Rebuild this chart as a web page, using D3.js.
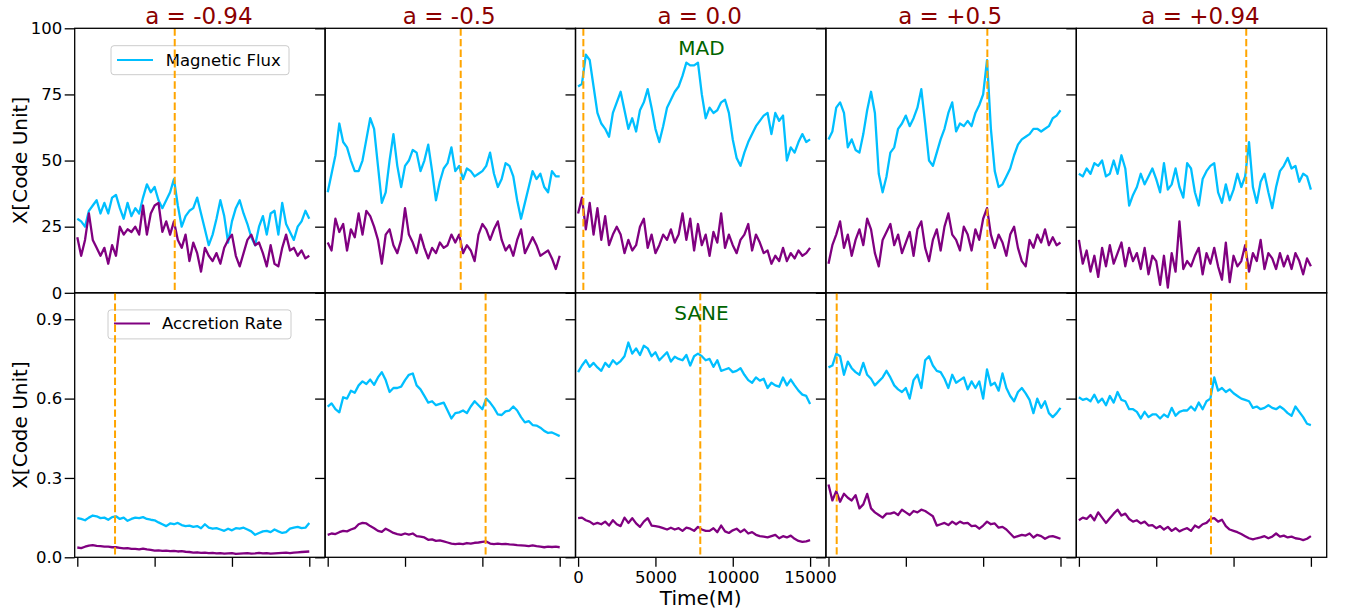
<!DOCTYPE html>
<html><head><meta charset="utf-8">
<script src="https://cdn.jsdelivr.net/npm/d3@7"></script>
<style>body{margin:0;background:#fff;} svg text{font-family:"DejaVu Sans",sans-serif;}</style>
</head><body><svg id="c" width="1348" height="611"></svg>
<script>
// ---------------- data ----------------
const spins = ["a = -0.94", "a = -0.5", "a = 0.0", "a = +0.5", "a = +0.94"];
const times = d3.range(0, 15001, 250); // sample times (M)
const timeTicks = [0, 5000, 10000, 15000];
const madYTicks = [0, 25, 50, 75, 100];
const saneYTicks = [0.0, 0.3, 0.6, 0.9];

// MAD: magnetic flux
const madFlux_m094 = [28,27,25,31,33,35,30,34,30,36,37,32,28,34,29,32,30,36,41,38,40,35,32,35,38,43,33,25,29,31,32,36,30,24,18,22,28,35,29,19,27,32,35,30,26,21,18,25,29,22,30,31,22,34,26,23,20,25,27,31,28];
const madFlux_m05 = [38,45,52,64,57,55,50,46,46,50,58,66,62,48,34,38,50,60,48,40,48,50,54,53,46,50,56,46,35,42,47,49,55,46,48,43,47,46,44,45,46,48,53,45,40,43,49,48,44,35,28,34,40,46,43,45,40,38,46,44,44];
const madFlux_0 = [78,79,90,88,78,68,64,62,59,68,72,76,69,62,66,61,69,72,77,70,62,57,63,70,73,76,78,82,87,86,86,87,75,66,70,68,69,72,73,68,58,51,48,53,57,60,63,65,67,68,60,68,65,67,50,55,53,57,60,57,58];
const madFlux_p05 = [58,61,70,72,68,55,58,54,53,60,69,76,68,45,38,44,53,55,62,64,67,63,66,70,77,64,50,48,53,58,62,68,72,61,64,63,65,63,68,71,75,88,62,46,40,41,44,47,52,56,58,59,60,62,62,61,62,63,66,67,69];
const madFlux_p094 = [45,44,47,45,49,48,50,44,45,50,45,52,47,33,37,40,45,41,44,47,43,38,49,39,41,47,40,36,49,47,38,33,43,46,48,49,38,34,41,35,39,45,40,44,57,40,34,42,45,38,32,40,46,48,51,47,48,42,45,44,39];
// MAD: accretion rate
const madAcc_m094 = [21,14,20,30,20,17,14,17,11,18,14,25,22,24,23,25,22,33,22,30,33,34,23,27,22,27,20,17,22,12,19,15,8,17,14,12,15,11,17,20,22,14,10,15,20,22,18,19,15,10,18,11,10,17,22,16,17,14,16,13,14];
const madAcc_m05 = [19,16,28,23,26,16,24,21,30,22,31,29,25,20,11,22,24,18,15,20,32,22,19,15,22,17,13,17,15,19,17,18,22,19,22,15,18,16,12,22,26,24,20,24,27,20,16,18,14,20,24,15,18,21,18,14,15,16,13,9,14];
const madAcc_0 = [30,36,24,34,22,32,20,29,18,22,25,22,15,20,16,18,25,28,17,22,15,18,22,20,24,19,22,30,20,28,16,26,18,22,14,23,19,30,17,22,18,15,20,22,26,16,22,19,15,16,11,14,12,17,12,15,13,16,14,15,17];
const madAcc_p05 = [11,18,22,27,17,22,14,20,24,18,28,24,15,10,20,23,26,18,22,15,19,23,14,24,27,17,12,20,24,16,25,30,22,20,16,25,22,16,24,20,28,32,22,17,22,19,14,22,25,17,12,10,20,17,22,19,24,18,21,18,19];
const madAcc_p094 = [20,11,16,8,14,6,17,10,18,11,15,19,10,17,12,15,9,17,7,14,12,3,14,2,15,8,27,9,12,10,14,17,7,15,11,17,10,5,19,4,14,10,12,18,8,15,12,20,9,15,13,9,15,10,14,9,15,12,7,13,10];

// SANE: magnetic flux
const saneFlux_m094 = [0.148,0.145,0.140,0.150,0.158,0.155,0.148,0.150,0.142,0.152,0.155,0.145,0.150,0.138,0.145,0.150,0.148,0.152,0.145,0.142,0.140,0.132,0.125,0.118,0.128,0.125,0.130,0.122,0.118,0.120,0.115,0.118,0.110,0.125,0.112,0.108,0.110,0.105,0.100,0.108,0.102,0.110,0.108,0.112,0.105,0.098,0.085,0.092,0.098,0.100,0.095,0.105,0.098,0.092,0.095,0.108,0.112,0.115,0.110,0.112,0.130];
const saneFlux_m05 = [0.570,0.582,0.560,0.548,0.605,0.600,0.630,0.622,0.650,0.665,0.655,0.672,0.652,0.680,0.700,0.670,0.625,0.640,0.640,0.645,0.670,0.690,0.695,0.650,0.635,0.610,0.585,0.590,0.575,0.580,0.585,0.555,0.525,0.545,0.548,0.555,0.545,0.570,0.590,0.575,0.560,0.600,0.585,0.565,0.540,0.538,0.552,0.555,0.570,0.555,0.530,0.510,0.515,0.500,0.498,0.490,0.478,0.470,0.472,0.465,0.458];
const saneFlux_0 = [0.700,0.725,0.745,0.720,0.735,0.718,0.705,0.735,0.720,0.745,0.730,0.742,0.760,0.812,0.770,0.790,0.765,0.800,0.790,0.760,0.775,0.745,0.760,0.775,0.740,0.758,0.750,0.745,0.765,0.725,0.760,0.770,0.760,0.745,0.750,0.720,0.745,0.705,0.710,0.715,0.700,0.705,0.715,0.690,0.670,0.660,0.680,0.668,0.675,0.640,0.660,0.650,0.645,0.680,0.650,0.672,0.650,0.630,0.615,0.610,0.580];
const saneFlux_p05 = [0.718,0.725,0.770,0.760,0.690,0.740,0.715,0.700,0.690,0.735,0.690,0.675,0.650,0.665,0.680,0.705,0.680,0.650,0.635,0.625,0.640,0.600,0.670,0.690,0.640,0.745,0.760,0.725,0.705,0.700,0.675,0.640,0.690,0.660,0.670,0.680,0.635,0.665,0.640,0.665,0.600,0.710,0.650,0.660,0.630,0.695,0.640,0.610,0.590,0.625,0.640,0.620,0.595,0.545,0.600,0.565,0.590,0.545,0.530,0.545,0.565];
const saneFlux_p094 = [0.605,0.595,0.600,0.590,0.615,0.585,0.600,0.575,0.610,0.585,0.625,0.595,0.590,0.560,0.560,0.550,0.525,0.550,0.530,0.540,0.540,0.525,0.540,0.530,0.565,0.535,0.550,0.555,0.555,0.570,0.555,0.585,0.560,0.590,0.600,0.680,0.630,0.640,0.625,0.635,0.620,0.610,0.600,0.595,0.590,0.565,0.570,0.560,0.565,0.575,0.565,0.560,0.570,0.560,0.545,0.535,0.570,0.550,0.530,0.505,0.500];
// SANE: accretion rate
const saneAcc_m094 = [0.037,0.035,0.040,0.044,0.046,0.043,0.042,0.040,0.040,0.038,0.038,0.036,0.034,0.035,0.032,0.032,0.030,0.033,0.030,0.028,0.025,0.026,0.024,0.025,0.023,0.024,0.022,0.023,0.021,0.020,0.018,0.019,0.017,0.018,0.016,0.017,0.015,0.016,0.014,0.015,0.016,0.013,0.014,0.015,0.016,0.014,0.015,0.017,0.015,0.016,0.014,0.015,0.016,0.017,0.018,0.016,0.018,0.019,0.020,0.021,0.022];
const saneAcc_m05 = [0.085,0.090,0.088,0.095,0.100,0.098,0.105,0.110,0.125,0.130,0.128,0.118,0.110,0.100,0.096,0.108,0.100,0.092,0.088,0.085,0.090,0.086,0.090,0.080,0.078,0.075,0.066,0.068,0.062,0.064,0.060,0.056,0.052,0.050,0.052,0.050,0.054,0.052,0.055,0.056,0.058,0.060,0.052,0.050,0.052,0.050,0.051,0.049,0.048,0.046,0.045,0.044,0.042,0.045,0.042,0.040,0.038,0.040,0.039,0.040,0.038];
const saneAcc_0 = [0.148,0.150,0.140,0.135,0.125,0.130,0.125,0.135,0.120,0.140,0.125,0.118,0.150,0.130,0.148,0.128,0.115,0.135,0.148,0.120,0.118,0.115,0.110,0.105,0.112,0.105,0.110,0.100,0.112,0.108,0.100,0.115,0.105,0.100,0.100,0.110,0.095,0.120,0.098,0.092,0.102,0.108,0.095,0.105,0.090,0.095,0.085,0.080,0.078,0.075,0.080,0.085,0.072,0.080,0.075,0.082,0.070,0.062,0.058,0.060,0.065];
const saneAcc_p05 = [0.275,0.215,0.250,0.210,0.240,0.225,0.215,0.235,0.185,0.200,0.240,0.185,0.170,0.160,0.150,0.165,0.165,0.170,0.160,0.180,0.170,0.160,0.175,0.170,0.180,0.175,0.165,0.155,0.120,0.125,0.130,0.122,0.135,0.125,0.135,0.128,0.130,0.118,0.120,0.108,0.120,0.135,0.125,0.128,0.112,0.115,0.105,0.090,0.075,0.080,0.085,0.082,0.090,0.075,0.085,0.080,0.070,0.078,0.080,0.075,0.070];
const saneAcc_p094 = [0.140,0.150,0.145,0.160,0.140,0.170,0.150,0.130,0.148,0.165,0.180,0.158,0.165,0.145,0.135,0.140,0.128,0.135,0.120,0.122,0.110,0.118,0.105,0.115,0.100,0.110,0.098,0.105,0.110,0.100,0.120,0.112,0.125,0.130,0.145,0.148,0.135,0.142,0.118,0.105,0.100,0.095,0.088,0.080,0.072,0.068,0.072,0.075,0.080,0.072,0.078,0.090,0.078,0.082,0.075,0.078,0.072,0.070,0.065,0.070,0.080];

// event times (dashed markers)
const madEventTime = [6300, 8600, 340, 10270, 10820];
const saneEventTime = [2440, 10210, 7900, 530, 8540];

// ---------------- layout ----------------
const fluxColor = "#00BFFF", accColor = "#800080", eventColor = "#FFA500";
const X0 = 74.7, PW = 250.4, TOP = 28.3, PH = 264.5;
const svg = d3.select("#c");

const rows = [
  { flux: [madFlux_m094, madFlux_m05, madFlux_0, madFlux_p05, madFlux_p094],
    acc: [madAcc_m094, madAcc_m05, madAcc_0, madAcc_p05, madAcc_p094],
    domain: [0, 100], ticks: madYTicks, fmt: d3.format("d"), events: madEventTime,
    note: "MAD", legend: "Magnetic Flux", legendColor: fluxColor,
    lg: {bx: 36.3, by: 17.4, bw: 178, bh: 29, lx1: 42.3, lx2: 78.3, ly: 31.7, tx: 91} },
  { flux: [saneFlux_m094, saneFlux_m05, saneFlux_0, saneFlux_p05, saneFlux_p094],
    acc: [saneAcc_m094, saneAcc_m05, saneAcc_0, saneAcc_p05, saneAcc_p094],
    domain: [0, 1.0], ticks: saneYTicks, fmt: d3.format(".1f"), events: saneEventTime,
    note: "SANE", legend: "Accretion Rate", legendColor: accColor,
    lg: {bx: 33.3, by: 17.1, bw: 183, bh: 29, lx1: 39.3, lx2: 75.3, ly: 30.8, tx: 87.3} }
];

const x = d3.scaleLinear().domain([-168, 16022]).range([0, PW]);

rows.forEach((row, r) => {
  const y = d3.scaleLinear().domain(row.domain).range([PH, 0]);
  const line = d3.line().x((d, i) => x(times[i])).y(d => y(d));
  for (let c = 0; c < 5; c++) {
    const g = svg.append("g").attr("transform", `translate(${X0 + c * PW},${TOP + r * PH})`);
    // y ticks
    const ya = d3.axisLeft(y).tickValues(row.ticks).tickSize(10).tickPadding(2.5)
      .tickFormat(c === 0 ? row.fmt : () => "");
    const yg = g.append("g").call(ya);
    yg.select(".domain").remove();
    yg.selectAll("line").attr("stroke", "#000").attr("stroke-width", 1.3);
    yg.selectAll("text").attr("fill", "#000").style("font-size", "16.5px");
    // x ticks (bottom row only)
    if (r === 1) {
      const xa = d3.axisBottom(x).tickValues(timeTicks).tickSize(9.5).tickPadding(4)
        .tickFormat(c === 2 ? d3.format("d") : () => "");
      const xg = g.append("g").attr("transform", `translate(0,${PH})`).call(xa);
      xg.select(".domain").remove();
      xg.selectAll("line").attr("stroke", "#000").attr("stroke-width", 1.3);
      xg.selectAll("text").attr("fill", "#000").style("font-size", "16.5px");
    }
    // series
    g.append("path").datum(row.flux[c]).attr("d", line).attr("fill", "none")
      .attr("stroke", fluxColor).attr("stroke-width", 2.3).attr("stroke-linejoin", "round");
    g.append("path").datum(row.acc[c]).attr("d", line).attr("fill", "none")
      .attr("stroke", accColor).attr("stroke-width", 2.3).attr("stroke-linejoin", "round");
    // legend
    if (c === 0) {
      const L = row.lg;
      g.append("rect").attr("x", L.bx).attr("y", L.by).attr("width", L.bw).attr("height", L.bh)
        .attr("rx", 3).attr("fill", "#fff").attr("fill-opacity", 0.8).attr("stroke", "#cccccc").attr("stroke-width", 1);
      g.append("line").attr("x1", L.lx1).attr("x2", L.lx2).attr("y1", L.ly).attr("y2", L.ly)
        .attr("stroke", row.legendColor).attr("stroke-width", 2);
      g.append("text").attr("x", L.tx).attr("y", L.ly).attr("dy", "0.35em")
        .style("font-size", "16.5px").attr("fill", "#000").text(row.legend);
    }
    // event marker
    g.append("line").attr("x1", x(row.events[c])).attr("x2", x(row.events[c]))
      .attr("y1", 0).attr("y2", PH).attr("stroke", eventColor).attr("stroke-width", 2)
      .attr("stroke-dasharray", "7.4,3.2");
    // note
    if (c === 2) {
      g.append("text").attr("x", 126).attr("y", 27).attr("text-anchor", "middle")
        .style("font-size", "20px").attr("fill", "#006400").text(row.note);
    }
    // frame
    g.append("rect").attr("width", PW).attr("height", PH).attr("fill", "none")
      .attr("stroke", "#000").attr("stroke-width", 1.3);
    // titles
    if (r === 0) {
      svg.append("text").attr("x", X0 + c * PW + PW / 2 - 1).attr("y", 24).attr("text-anchor", "middle")
        .style("font-size", "23px").attr("fill", "#8B0000").text(spins[c]);
    }
  }
  // y label
  svg.append("text").attr("transform", `translate(27,${TOP + r * PH + PH / 2}) rotate(-90)`)
    .attr("text-anchor", "middle").style("font-size", "20px").attr("fill", "#000").text("X[Code Unit]");
});

svg.append("text").attr("x", X0 + 2.5 * PW).attr("y", 604.5).attr("text-anchor", "middle")
  .style("font-size", "20px").attr("fill", "#000").text("Time(M)");
</script></body></html>
